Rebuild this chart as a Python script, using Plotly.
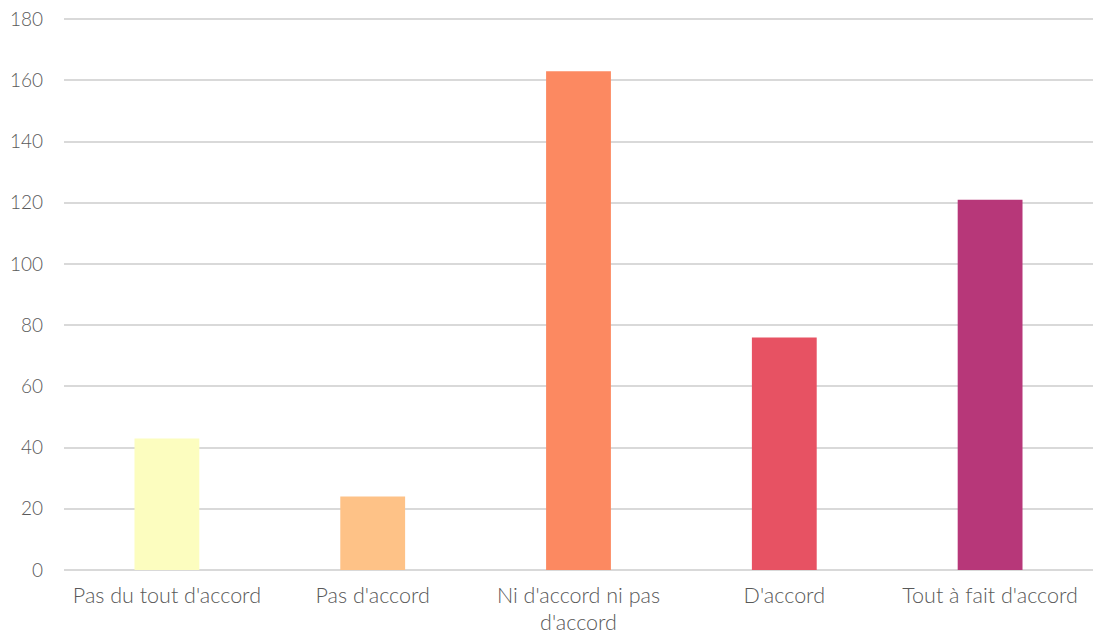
import plotly.graph_objects as go

categories = ["Pas du tout d'accord", "Pas d'accord", "Ni d'accord ni pas<br>d'accord", "D'accord", "Tout à fait d'accord"]
values = [43, 24, 163, 76, 121]
colors = ["#fcfdbf", "#fec287", "#fc8961", "#e75263", "#b73779"]
y_ticks = [0, 20, 40, 60, 80, 100, 120, 140, 160, 180]

fig = go.Figure(go.Bar(x=categories, y=values, marker=dict(color=colors, line=dict(width=0))))

yfont = dict(family="Lato", size=19, color="#595959", weight=300)
xfont = dict(family="Lato", size=21.5, color="#595959", weight=300)
fig.update_layout(
    width=1093, height=637,
    margin=dict(l=64, r=0, t=18, b=67),
    paper_bgcolor="white", plot_bgcolor="white",
    bargap=0.685,
    showlegend=False,
    font=yfont,
)
fig.update_yaxes(range=[0, 180.4], tickvals=y_ticks, showgrid=True, gridcolor="#d9d9d9", gridwidth=1.5,
                 zeroline=True, zerolinecolor="#d9d9d9", zerolinewidth=1.5, showline=False,
                 ticks="", ticklabelstandoff=20, tickfont=yfont, automargin=False)
fig.update_xaxes(showline=False, ticks="", tickfont=xfont, tickangle=0, ticklabelstandoff=10, automargin=False)

fig.write_html("out.html", config={"displayModeBar": False},
               post_script="document.body.style.margin='0';document.body.style.overflow='hidden';")
